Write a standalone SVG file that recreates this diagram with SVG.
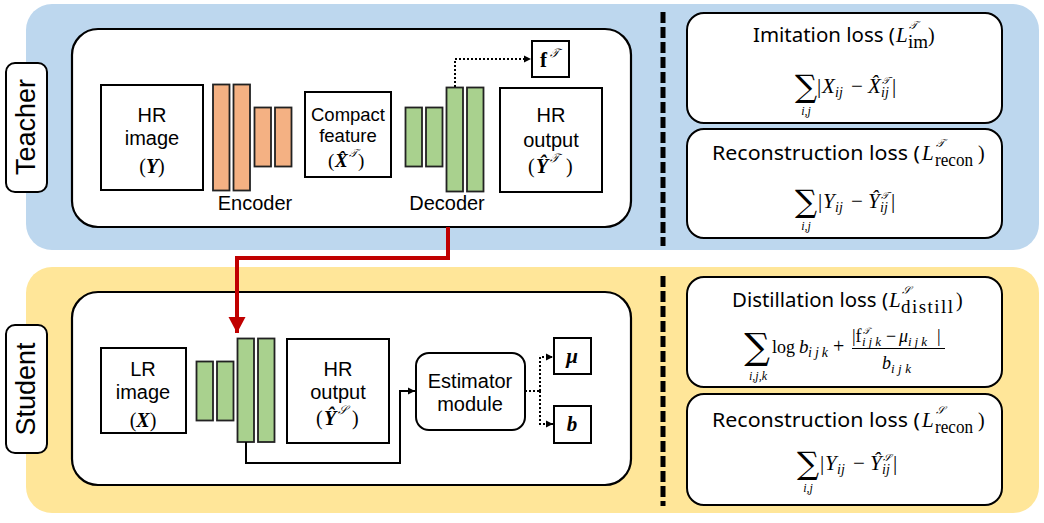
<svg xmlns="http://www.w3.org/2000/svg" width="1044" height="523" viewBox="0 0 1044 523">
<defs>
<style>
.panelT{fill:#BDD7EE}
.panelS{fill:#FFE699}
.lbl{fill:#fff;stroke:#000;stroke-width:2}
.inner{fill:#fff;stroke:#000;stroke-width:2.2}
.box{fill:#fff;stroke:#000;stroke-width:2}
.enc{fill:#F4B183;stroke:#222;stroke-width:1.8}
.dec{fill:#A9D18E;stroke:#222;stroke-width:1.8}
.loss{fill:#fff;stroke:#000;stroke-width:2}
.t{font-family:"Liberation Sans",Arial,sans-serif;fill:#000;text-anchor:middle}
.k{font-family:"Noto Sans","Open Sans",sans-serif;fill:#000;font-size:20px}
.m{font-family:"Liberation Serif","DejaVu Serif",serif;fill:#000}
.mi{font-family:"Liberation Serif","DejaVu Serif",serif;font-style:italic;fill:#000}
.mb{font-family:"Liberation Serif","DejaVu Serif",serif;font-style:italic;font-weight:bold;fill:#000}
.sc{font-family:"DejaVu Serif","Liberation Serif",serif;font-style:italic;fill:#000}
.sum{font-family:"DejaVu Serif","DejaVu Sans",serif;fill:#000;text-anchor:middle}
.dash{stroke:#000;stroke-width:5;stroke-dasharray:11 4;fill:none}
.dot{stroke:#000;stroke-width:2;stroke-dasharray:2 2;fill:none}
.wire{stroke:#000;stroke-width:2;fill:none}
.red{stroke:#C00000;stroke-width:4;fill:none}
</style>
<marker id="ah" markerWidth="8" markerHeight="8" refX="7" refY="4" orient="auto" markerUnits="userSpaceOnUse">
<path d="M0,0.5 L7,4 L0,7.5 Z" fill="#000"/>
</marker>
<marker id="ahr" markerWidth="18" markerHeight="18" refX="16" refY="9" orient="auto" markerUnits="userSpaceOnUse">
<path d="M0,0.5 L16,9 L0,17.5 Z" fill="#C00000"/>
</marker>
</defs>

<!-- panels -->
<rect class="panelT" x="26" y="4" width="1013" height="246" rx="26"/>
<rect class="panelS" x="26" y="267" width="1013" height="246" rx="26"/>

<g id="teacher-label">
<rect class="lbl" x="6" y="63" width="41" height="129" rx="9"/>
<text class="t" font-size="27" transform="translate(34.5,127) rotate(-90)">Teacher</text>
</g>
<g id="student-label">
<rect class="lbl" x="6" y="325" width="41" height="128" rx="9"/>
<text class="t" font-size="27" transform="translate(34.5,389) rotate(-90)">Student</text>
</g>

<g id="teacher-net">
<rect class="inner" x="72" y="29" width="559" height="198" rx="26"/>
</g>
<g id="student-net">
<rect class="inner" x="72" y="292" width="559" height="193" rx="26"/>
</g>

<!-- dashed separators -->
<line class="dash" x1="663" y1="12" x2="663" y2="246"/>
<line class="dash" x1="663" y1="276" x2="663" y2="506"/>

<!-- Teacher nodes -->
<g id="hr-image">
<rect class="box" x="101" y="85" width="102" height="105"/>
<text class="t" font-size="20" x="152" y="122">HR</text>
<text class="t" font-size="20" x="152" y="145">image</text>
<text class="m" font-size="20" x="152" y="173" text-anchor="middle">(<tspan class="mb">Y</tspan>)</text>
</g>
<g id="encoder">
<rect class="enc" x="213" y="84.5" width="16.5" height="106"/>
<rect class="enc" x="233.5" y="84.5" width="16.5" height="106"/>
<rect class="enc" x="254.5" y="107.5" width="16.5" height="59"/>
<rect class="enc" x="275" y="107.5" width="16.5" height="59"/>
<text class="t" font-size="20" x="255" y="210">Encoder</text>
</g>
<g id="compact-feature">
<rect class="box" x="305" y="92" width="86" height="85"/>
<text class="t" font-size="18.5" x="348" y="121">Compact</text>
<text class="t" font-size="18.5" x="348" y="142">feature</text>
<text class="m" font-size="19" x="328" y="167">(</text>
<text class="mb" font-size="19" x="335" y="167">X&#x302;</text>
<text class="sc" font-size="11" x="348.5" y="157">𝒯</text>
<text class="m" font-size="19" x="358" y="167">)</text>
</g>
<g id="decoder">
<rect class="dec" x="405.5" y="107.5" width="16.5" height="59"/>
<rect class="dec" x="426" y="107.5" width="16.5" height="59"/>
<rect class="dec" x="446.5" y="87.5" width="16.5" height="104"/>
<rect class="dec" x="467" y="87.5" width="16.5" height="104"/>
<text class="t" font-size="20" x="447" y="210">Decoder</text>
</g>
<g id="hr-output-t">
<rect class="box" x="500" y="88" width="102" height="104"/>
<text class="t" font-size="20" x="551" y="122">HR</text>
<text class="t" font-size="20" x="551" y="147">output</text>
<text class="m" font-size="20" x="528" y="173">(</text>
<text class="mb" font-size="20" x="536" y="173">Ŷ</text>
<text class="sc" font-size="12" x="550" y="162">𝒯</text>
<text class="m" font-size="20" x="566" y="173">)</text>
</g>
<g id="f-teacher">
<rect class="box" x="532" y="41" width="37" height="36"/>
<text class="m" font-size="21" font-weight="bold" x="540" y="67">f</text>
<text class="sc" font-size="12" x="550" y="57">𝒯</text>
</g>

<!-- Student nodes -->
<g id="lr-image">
<rect class="box" x="101" y="348" width="85" height="85"/>
<text class="t" font-size="20" x="143" y="376">LR</text>
<text class="t" font-size="20" x="143" y="399">image</text>
<text class="m" font-size="20" x="143" y="427" text-anchor="middle">(<tspan class="mb">X</tspan>)</text>
</g>
<g id="student-decoder">
<rect class="dec" x="196.5" y="361.5" width="16.5" height="59"/>
<rect class="dec" x="217" y="361.5" width="16.5" height="59"/>
<rect class="dec" x="237.5" y="338.5" width="16.5" height="103.5"/>
<rect class="dec" x="258" y="338.5" width="16.5" height="103.5"/>
</g>
<g id="hr-output-s">
<rect class="box" x="287" y="339" width="102" height="104"/>
<text class="t" font-size="20" x="338" y="376">HR</text>
<text class="t" font-size="20" x="338" y="399">output</text>
<text class="m" font-size="20" x="316" y="425">(</text>
<text class="mb" font-size="20" x="324" y="425">Ŷ</text>
<text class="sc" font-size="12" x="338" y="414">𝒮</text>
<text class="m" font-size="20" x="352" y="425">)</text>
</g>
<g id="estimator">
<rect class="box" x="416" y="353" width="109" height="77" rx="13"/>
<text class="t" font-size="20" x="470" y="388">Estimator</text>
<text class="t" font-size="20" x="470" y="411">module</text>
</g>
<g id="mu">
<rect class="box" x="554" y="338" width="37" height="36"/>
<text class="mb" font-size="21" x="572" y="363" text-anchor="middle">μ</text>
</g>
<g id="b">
<rect class="box" x="554" y="406" width="37" height="37"/>
<text class="mb" font-size="21" x="572" y="431" text-anchor="middle">b</text>
</g>

<!-- connectors -->
<g id="connectors">
<polyline class="dot" points="455,87 455,59 531,59" marker-end="url(#ah)"/>
<polyline class="red" points="448,227 448,258 237,258 237,333" marker-end="url(#ahr)"/>
<polyline class="wire" points="246,442 246,463 400,463 400,391 415,391" marker-end="url(#ah)"/>
<polyline class="dot" points="525,391 540,391"/>
<polyline class="dot" points="540,391 540,357 553,357" marker-end="url(#ah)"/>
<polyline class="dot" points="540,391 540,424 553,424" marker-end="url(#ah)"/>
</g>

<!-- Loss boxes -->
<g id="loss-imitation">
<rect class="loss" x="687" y="13" width="315" height="110" rx="17"/>
<text class="k" x="753" y="42" textLength="142" lengthAdjust="spacingAndGlyphs">Imitation loss (</text>
<text class="mi" font-size="21" x="896" y="42">L</text>
<text class="sc" font-size="11" x="909" y="29">𝒯</text>
<text class="m" font-size="19" x="908" y="48">im</text>
<text class="m" font-size="20" x="928" y="42">)</text>
<text class="sum" font-size="31" x="806" y="97">∑</text>
<text class="mi" font-size="12" x="806" y="115" text-anchor="middle">i,j</text>
<text class="m" font-size="21" x="817" y="93">|</text>
<text class="mi" font-size="21" x="822" y="93">X</text>
<text class="mi" font-size="14" x="835" y="97">ij</text>
<text class="m" font-size="21" x="851" y="93">−</text>
<text class="mi" font-size="21" x="868" y="93">X&#x302;</text>
<text class="sc" font-size="10" x="882" y="84">𝒯</text>
<text class="mi" font-size="14" x="881" y="97">ij</text>
<text class="m" font-size="21" x="892" y="93">|</text>
</g>
<g id="loss-recon-t">
<rect class="loss" x="687" y="129" width="315" height="109" rx="17"/>
<text class="k" x="712" y="160" textLength="208" lengthAdjust="spacingAndGlyphs">Reconstruction loss (</text>
<text class="mi" font-size="21" x="922" y="160">L</text>
<text class="sc" font-size="11" x="936" y="147">𝒯</text>
<text class="m" font-size="19" x="935" y="166" textLength="38" lengthAdjust="spacingAndGlyphs">recon</text>
<text class="m" font-size="20" x="978" y="160">)</text>
<text class="sum" font-size="31" x="806" y="212">∑</text>
<text class="mi" font-size="12" x="806" y="230" text-anchor="middle">i,j</text>
<text class="m" font-size="21" x="818" y="208">|</text>
<text class="mi" font-size="21" x="823" y="208">Y</text>
<text class="mi" font-size="14" x="835" y="212">ij</text>
<text class="m" font-size="21" x="851" y="208">−</text>
<text class="mi" font-size="21" x="868" y="208">Ŷ</text>
<text class="sc" font-size="10" x="881" y="199">𝒯</text>
<text class="mi" font-size="14" x="880" y="212">ij</text>
<text class="m" font-size="21" x="891" y="208">|</text>
</g>
<g id="loss-distill">
<rect class="loss" x="687" y="277" width="315" height="110" rx="17"/>
<text class="k" x="732" y="307" textLength="156" lengthAdjust="spacingAndGlyphs">Distillation loss (</text>
<text class="mi" font-size="21" x="889" y="307">L</text>
<text class="sc" font-size="11" x="902" y="294">𝒮</text>
<text class="m" font-size="19" x="901" y="313" textLength="52" lengthAdjust="spacing">distill</text>
<text class="m" font-size="20" x="956" y="307">)</text>
<text class="sum" font-size="36" x="757" y="359">∑</text>
<text class="mi" font-size="12" x="758" y="380" text-anchor="middle">i,j,k</text>
<text class="m" font-size="18" x="772" y="353">log</text>
<text class="mi" font-size="19" x="799" y="353">b</text>
<text class="mi" font-size="14" x="808" y="357" textLength="20" lengthAdjust="spacing">ijk</text>
<text class="m" font-size="20" x="833" y="353">+</text>
<text class="m" font-size="18" x="852" y="342">|f</text>
<text class="sc" font-size="9" x="863" y="334">𝒯</text>
<text class="mi" font-size="13" x="862" y="346" textLength="19" lengthAdjust="spacing">ijk</text>
<text class="m" font-size="18" x="886" y="342">−</text>
<text class="mi" font-size="18" x="899" y="342">μ</text>
<text class="mi" font-size="13" x="908" y="346" textLength="19" lengthAdjust="spacing">ijk</text>
<text class="m" font-size="18" x="937" y="342">|</text>
<line x1="852" y1="348.5" x2="945" y2="348.5" stroke="#000" stroke-width="1.2"/>
<text class="mi" font-size="18" x="882" y="369">b</text>
<text class="mi" font-size="13" x="891" y="373" textLength="20" lengthAdjust="spacing">ijk</text>
</g>
<g id="loss-recon-s">
<rect class="loss" x="687" y="394" width="315" height="111" rx="17"/>
<text class="k" x="712" y="427" textLength="208" lengthAdjust="spacingAndGlyphs">Reconstruction loss (</text>
<text class="mi" font-size="21" x="922" y="427">L</text>
<text class="sc" font-size="11" x="936" y="414">𝒮</text>
<text class="m" font-size="19" x="935" y="433" textLength="38" lengthAdjust="spacingAndGlyphs">recon</text>
<text class="m" font-size="20" x="978" y="427">)</text>
<text class="sum" font-size="31" x="808" y="474">∑</text>
<text class="mi" font-size="12" x="808" y="492" text-anchor="middle">i,j</text>
<text class="m" font-size="21" x="820" y="470">|</text>
<text class="mi" font-size="21" x="825" y="470">Y</text>
<text class="mi" font-size="14" x="837" y="474">ij</text>
<text class="m" font-size="21" x="853" y="470">−</text>
<text class="mi" font-size="21" x="870" y="470">Ŷ</text>
<text class="sc" font-size="10" x="883" y="461">𝒮</text>
<text class="mi" font-size="14" x="882" y="474">ij</text>
<text class="m" font-size="21" x="893" y="470">|</text>
</g>
</svg>
